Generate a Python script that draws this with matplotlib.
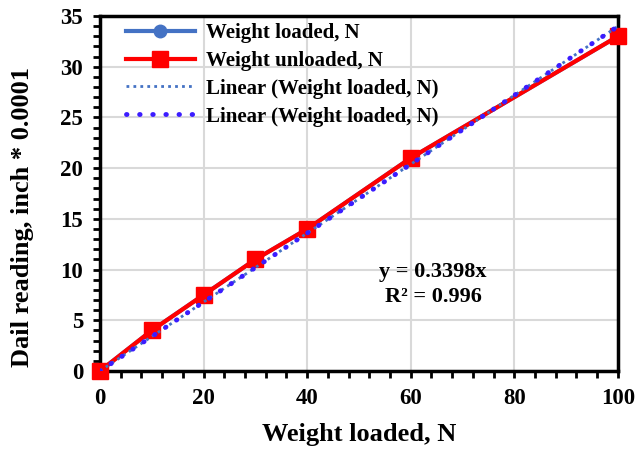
import matplotlib
matplotlib.use("Agg")
import matplotlib.pyplot as plt
import numpy as np
from matplotlib.ticker import MultipleLocator

x_vals = [0, 10, 20, 30, 40, 60, 100]
loaded = [0, 4, 7.5, 11, 14, 21, 33]
unloaded = [0, 4, 7.5, 11, 14, 21, 33]
slope = 0.3398
r2 = 0.996
trend_x = [0, 100]

plt.rcParams['font.family'] = ['Liberation Serif', 'DejaVu Serif']
plt.rcParams['font.weight'] = 'bold'

fig = plt.figure(figsize=(6.43, 4.51), dpi=100)
ax = fig.add_axes([0.1555, 0.1774, 0.8055, 0.7871])

ax.plot(x_vals, loaded, color='#4472C4', lw=3, marker='o', ms=9, label='Weight loaded, N', zorder=3, clip_on=False)
ax.plot(x_vals, unloaded, color='#FF0000', lw=3, marker='s', ms=11, label='Weight unloaded, N', zorder=4, clip_on=False)
ty = [slope * v for v in trend_x]
ax.plot(trend_x, ty, color='#4472C4', lw=2, linestyle=(0, (1, 1.5)), label='Linear (Weight loaded, N)', zorder=5)
ax.plot(trend_x, ty, color='#3B1CFF', lw=3.5, linestyle=(0, (0.1, 2.6)), dash_capstyle='round', label='Linear (Weight loaded, N)', zorder=5)

ax.set_xlim(0, 100)
ax.set_ylim(0, 35)
ax.xaxis.set_major_locator(MultipleLocator(20))
ax.xaxis.set_minor_locator(MultipleLocator(4))
ax.yaxis.set_major_locator(MultipleLocator(5))
ax.yaxis.set_minor_locator(MultipleLocator(1))
ax.grid(True, which='major', color='#D9D9D9', lw=1.5, zorder=0)
ax.set_axisbelow(True)
for s in ax.spines.values():
    s.set_linewidth(2.5)
    s.set_color('black')
ax.tick_params(which='both', direction='out', length=5, width=2, color='black')
ax.tick_params(which='major', labelsize=16.5, pad=7)
for lab in ax.get_xticklabels() + ax.get_yticklabels():
    lab.set_fontweight('bold')

ax.set_xlabel('Weight loaded, N', fontsize=19, fontweight='bold', labelpad=10)
ax.set_ylabel('Dail reading, inch * 0.0001', fontsize=19, fontweight='bold')
ax.yaxis.set_label_coords(-0.128, 0.434)

ax.text(64.3, 8.5, 'y = 0.3398x\nR² = 0.996', ha='center', va='center', fontsize=16,
        fontweight='bold', linespacing=1.35)

leg = ax.legend(loc='upper left', frameon=False, fontsize=15, handlelength=3.3,
                borderaxespad=0.1, labelspacing=0.38, handletextpad=0.55,
                bbox_to_anchor=(0.03, 1.01))
for t in leg.get_texts():
    t.set_fontweight('bold')

fig.savefig('out.png', dpi=100)
